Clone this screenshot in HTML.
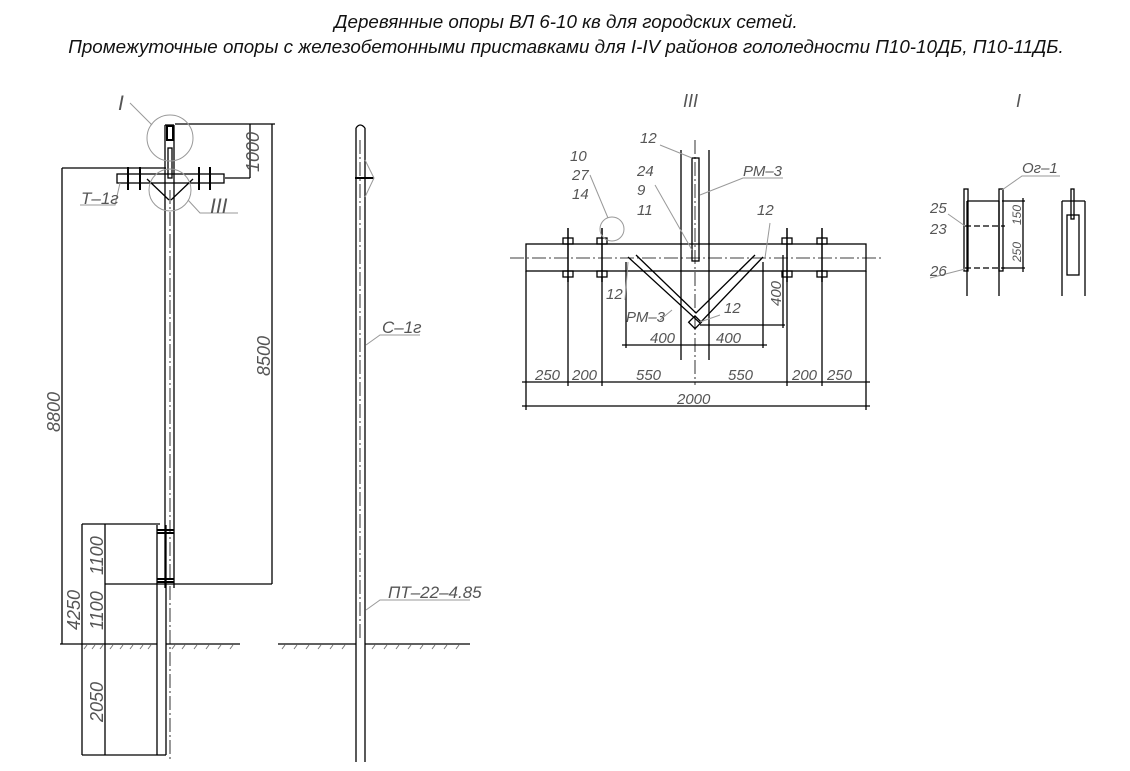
<!DOCTYPE html>
<html><head><meta charset="utf-8"><style>
body{margin:0;background:#fff}
svg{display:block}
text{font-family:"Liberation Sans",sans-serif;font-style:italic;fill:#555}
.t{fill:#111;font-size:18.8px}
</style></head><body>
<svg width="1130" height="771" viewBox="0 0 1130 771" xmlns="http://www.w3.org/2000/svg">
<text class="t" x="566" y="28" text-anchor="middle">Деревянные опоры ВЛ 6-10 кв для городских сетей.</text>
<text class="t" x="566" y="53" text-anchor="middle">Промежуточные опоры с железобетонными приставками для I-IV районов гололедности П10-10ДБ, П10-11ДБ.</text>

<g stroke="#000" stroke-width="1.3" fill="none">
<line x1="165" y1="125" x2="165" y2="588"/><line x1="174" y1="125" x2="174" y2="588"/>
<line x1="165" y1="125" x2="174" y2="125"/>
<line x1="157" y1="525" x2="157" y2="755"/><line x1="166" y1="525" x2="166" y2="755"/>
<line x1="157" y1="755" x2="166" y2="755"/>
<line x1="157" y1="530" x2="174" y2="530" stroke-width="2"/><line x1="157" y1="533" x2="174" y2="533" stroke-width="2"/>
<line x1="157" y1="579" x2="174" y2="579" stroke-width="2"/><line x1="157" y1="582" x2="174" y2="582" stroke-width="2"/>
<rect x="117" y="174" width="107" height="9"/>
<line x1="128" y1="190" x2="128" y2="167" stroke-width="2"/><line x1="140" y1="190" x2="140" y2="167" stroke-width="2"/>
<line x1="199" y1="190" x2="199" y2="167" stroke-width="2"/><line x1="210" y1="190" x2="210" y2="167" stroke-width="2"/>
<line x1="147" y1="179" x2="169" y2="200"/><line x1="193" y1="179" x2="171" y2="200"/>
<rect x="167" y="126" width="6" height="14" stroke-width="2"/>
<rect x="168" y="148" width="4" height="30"/>
<line x1="62" y1="168" x2="62" y2="644"/><line x1="62" y1="168" x2="166" y2="168"/>
<line x1="82" y1="524" x2="82" y2="755"/><line x1="105" y1="524" x2="105" y2="755"/>
<line x1="82" y1="524" x2="160" y2="524"/><line x1="105" y1="584" x2="272" y2="584"/>
<line x1="82" y1="755" x2="157" y2="755"/>
<line x1="272" y1="124" x2="272" y2="584"/><line x1="250" y1="124" x2="250" y2="178"/>
<line x1="175" y1="124" x2="275" y2="124"/><line x1="225" y1="178" x2="250" y2="178"/>
<line x1="60" y1="644" x2="157" y2="644"/><line x1="166" y1="644" x2="240" y2="644"/>
<line x1="356" y1="128" x2="356" y2="762"/><line x1="365" y1="128" x2="365" y2="762"/>
<path d="M356 128 Q360 122 365 128"/>
<line x1="355" y1="178" x2="374" y2="178" stroke-width="2"/>
<line x1="278" y1="644" x2="356" y2="644"/><line x1="365" y1="644" x2="470" y2="644"/>
<rect x="526" y="244" width="340" height="27"/>
<line x1="681" y1="150" x2="681" y2="360"/><line x1="709" y1="150" x2="709" y2="360"/>
<rect x="692" y="158" width="7" height="103"/>
<path d="M628 257 L700 323 L763 257"/><path d="M636 255 L696 313 L755 255"/>
<rect x="690" y="318" width="9" height="9" transform="rotate(45 695 323)"/>
<g stroke-width="1.5">
<line x1="568" y1="228" x2="568" y2="282"/><line x1="602" y1="228" x2="602" y2="282"/>
<line x1="787" y1="228" x2="787" y2="282"/><line x1="822" y1="228" x2="822" y2="282"/>
</g>
<rect x="563" y="238" width="10" height="6"/><rect x="597" y="238" width="10" height="6"/><rect x="782" y="238" width="10" height="6"/><rect x="817" y="238" width="10" height="6"/>
<rect x="563" y="271" width="10" height="6"/><rect x="597" y="271" width="10" height="6"/><rect x="782" y="271" width="10" height="6"/><rect x="817" y="271" width="10" height="6"/>
<line x1="526" y1="271" x2="526" y2="410"/><line x1="866" y1="271" x2="866" y2="410"/>
<line x1="568" y1="277" x2="568" y2="386"/><line x1="602" y1="277" x2="602" y2="386"/>
<line x1="787" y1="277" x2="787" y2="386"/><line x1="822" y1="277" x2="822" y2="386"/>
<line x1="522" y1="382" x2="870" y2="382"/><line x1="522" y1="406" x2="870" y2="406"/>
<line x1="626" y1="262" x2="626" y2="348"/><line x1="763" y1="262" x2="763" y2="348"/>
<line x1="622" y1="345" x2="767" y2="345"/>
<line x1="700" y1="325" x2="785" y2="325"/><line x1="783" y1="255" x2="783" y2="328"/>
<line x1="967" y1="201" x2="967" y2="296"/><line x1="999" y1="201" x2="999" y2="296"/>
<line x1="967" y1="201" x2="999" y2="201"/>
<rect x="964" y="189" width="4" height="82"/><rect x="999" y="189" width="4" height="82"/>
<line x1="965" y1="226" x2="1005" y2="226" stroke-dasharray="6 3"/>
<line x1="965" y1="268" x2="1005" y2="268" stroke-dasharray="6 3"/>
<line x1="1002" y1="201" x2="1025" y2="201"/><line x1="1002" y1="268" x2="1025" y2="268"/>
<line x1="1023" y1="198" x2="1023" y2="272"/>
<line x1="1062" y1="201" x2="1062" y2="296"/><line x1="1085" y1="201" x2="1085" y2="296"/>
<line x1="1062" y1="201" x2="1085" y2="201"/>
<rect x="1067" y="215" width="12" height="60"/>
<rect x="1071" y="189" width="3" height="30"/>
</g>
<g stroke="#777" stroke-width="1">
<path d="M84 649l3-4M92 649l3-4M100 649l3-4M110 649l3-4M120 649l3-4M130 649l3-4M140 649l3-4M148 649l3-4M172 649l3-4M182 649l3-4M194 649l3-4M206 649l3-4M218 649l3-4M230 649l3-4"/>
<path d="M282 649l3-4M294 649l3-4M306 649l3-4M318 649l3-4M330 649l3-4M342 649l3-4M372 649l3-4M384 649l3-4M396 649l3-4M408 649l3-4M420 649l3-4M432 649l3-4M444 649l3-4M456 649l3-4"/>
</g>
<g stroke="#000" stroke-width="0.8" stroke-dasharray="14 3 2 3" fill="none">
<line x1="170" y1="190" x2="170" y2="760"/>
<line x1="510" y1="258" x2="882" y2="258"/>
<line x1="695" y1="140" x2="695" y2="385"/>
<line x1="360" y1="140" x2="360" y2="640"/>
</g>
<g stroke="#999" stroke-width="1" fill="none">
<circle cx="170" cy="138" r="23"/><circle cx="170" cy="190" r="21"/>
<path d="M130 103 L152 125"/><path d="M188 200 L200 213 L238 213"/>
<path d="M120 183 L115 205 L80 205"/>
<path d="M365 160 L374 178 L365 197"/>
<path d="M366 345 L380 335 L420 335"/><path d="M366 610 L380 600 L470 600"/>
<circle cx="612" cy="229" r="12"/>
<path d="M590 175 L608 218"/><path d="M655 185 L692 250"/>
<path d="M660 145 L692 158"/><path d="M700 195 L743 178 L783 178"/>
<path d="M625 300 L628 262"/><path d="M660 320 L672 310"/><path d="M700 322 L720 315"/>
<path d="M770 223 L765 258"/>
<path d="M1002 190 L1022 176 L1060 176"/><path d="M948 214 L965 226"/><path d="M930 278 L965 269"/>
</g>
<g font-size="15">
<text x="118" y="110" font-family="Liberation Serif" font-size="21" fill="#333">I</text>
<text x="210" y="213" font-family="Liberation Serif" font-size="21" fill="#333">III</text>
<text x="81" y="204" font-size="17">Т–1г</text>
<text x="382" y="333" font-size="17">С–1г</text>
<text x="388" y="598" font-size="17">ПТ–22–4.85</text>
<g font-size="18">
<text transform="translate(259,172) rotate(-90)">1000</text>
<text transform="translate(270,376) rotate(-90)">8500</text>
<text transform="translate(60,432) rotate(-90)">8800</text>
<text transform="translate(80,630) rotate(-90)">4250</text>
<text transform="translate(103,575) rotate(-90)">1100</text>
<text transform="translate(103,630) rotate(-90)">1100</text>
<text transform="translate(103,722) rotate(-90)">2050</text>
</g>
<text x="683" y="107" font-family="Liberation Serif" font-size="18" fill="#333">III</text>
<text x="1016" y="107" font-family="Liberation Serif" font-size="18" fill="#333">I</text>
<text x="570" y="161">10</text><text x="572" y="180">27</text><text x="572" y="199">14</text>
<text x="637" y="176">24</text><text x="637" y="195">9</text><text x="637" y="215">11</text>
<text x="640" y="143">12</text><text x="743" y="176">РМ–3</text>
<text x="757" y="215">12</text><text x="606" y="299">12</text>
<text x="626" y="322">РМ–3</text><text x="724" y="313">12</text>
<text x="650" y="343">400</text><text x="716" y="343">400</text>
<text transform="translate(781,306) rotate(-90)">400</text>
<text x="535" y="380">250</text><text x="572" y="380">200</text>
<text x="636" y="380">550</text><text x="728" y="380">550</text>
<text x="792" y="380">200</text><text x="827" y="380">250</text>
<text x="677" y="404">2000</text>
<text x="1022" y="173">Ог–1</text>
<text x="930" y="213">25</text><text x="930" y="234">23</text><text x="930" y="276">26</text>
<text transform="translate(1021,225) rotate(-90)" font-size="12">150</text>
<text transform="translate(1021,262) rotate(-90)" font-size="12">250</text>
</g>
</svg>
</body></html>
